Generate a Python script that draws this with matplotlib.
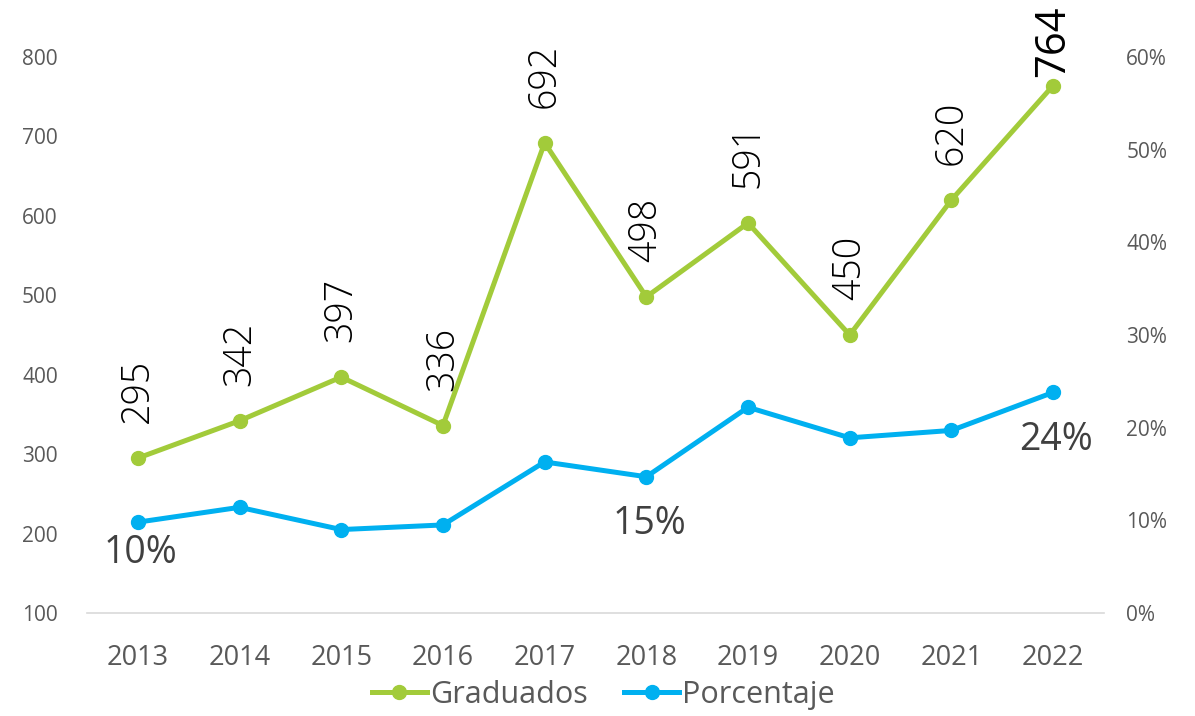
import matplotlib.pyplot as plt
from matplotlib.ticker import FuncFormatter

plt.rcParams['font.family'] = ['Open Sans', 'DejaVu Sans']

# datos
anios = ['2013', '2014', '2015', '2016', '2017', '2018', '2019', '2020', '2021', '2022']
graduados = [295, 342, 397, 336, 692, 498, 591, 450, 620, 764]
porcentaje = [0.098, 0.114, 0.090, 0.095, 0.163, 0.147, 0.222, 0.189, 0.197, 0.238]
etiquetas_pct = {0: '10%', 5: '15%', 9: '24%'}

verde = '#A2CB3A'
azul = '#00B0F0'
gris = '#595959'

fig = plt.figure(figsize=(11.95, 7.16), dpi=100)
ax = fig.add_axes([0.0728, 0.1439, 0.851, 0.7765])
ax2 = ax.twinx()

x = range(len(anios))
l1, = ax.plot(x, graduados, color=verde, lw=3.6, marker='o', ms=10, label='Graduados', zorder=3)
l2, = ax2.plot(x, porcentaje, color=azul, lw=3.6, marker='o', ms=10, label='Porcentaje', zorder=3)

ax.set_xlim(-0.5, len(anios) - 0.5)
ax.set_ylim(100, 800)
ax2.set_ylim(0, 0.6)
ax.set_yticks(range(100, 801, 100))
ax2.set_yticks([i / 10 for i in range(7)])
ax2.yaxis.set_major_formatter(FuncFormatter(lambda v, p: f'{v:.0%}'))
ax.set_xticks(list(x))
ax.set_xticklabels(anios)

for a in (ax, ax2):
    for s in a.spines.values():
        s.set_visible(False)
ax.spines['bottom'].set_visible(True)
ax.spines['bottom'].set_color('#D9D9D9')
ax.spines['bottom'].set_linewidth(1.2)

ax.tick_params(axis='x', length=0, pad=22, labelsize=19.5, labelcolor=gris)
ax.tick_params(axis='y', length=0, pad=21, labelsize=15, labelcolor=gris)
ax2.tick_params(axis='y', length=0, pad=16, labelsize=15, labelcolor=gris)

# etiquetas de graduados (verticales)
for i, v in enumerate(graduados):
    if i == len(graduados) - 1:
        ax.annotate(str(v), (i, v), xytext=(0, 6), textcoords='offset points',
                    rotation=90, ha='center', va='bottom', fontsize=30,
                    fontweight='normal', color='black', annotation_clip=False)
    else:
        ax.annotate(str(v), (i, v), xytext=(0, 25), textcoords='offset points',
                    rotation=90, ha='center', va='bottom', fontsize=27,
                    fontweight='light', color='black', annotation_clip=False)

# etiquetas de porcentaje
for i, txt in etiquetas_pct.items():
    off = -22 if i == 0 else -34
    ax2.annotate(txt, (i, porcentaje[i]), xytext=(2, off), textcoords='offset points',
                 ha='center', va='center', fontsize=27, color='#404040')

fig.legend(handles=[l1, l2], loc='center', bbox_to_anchor=(0.505, 0.03), ncol=2,
           frameon=False, fontsize=22, labelcolor=gris, handlelength=1.8,
           handletextpad=0.1, columnspacing=1.2)

fig.savefig('out.png', dpi=100)
